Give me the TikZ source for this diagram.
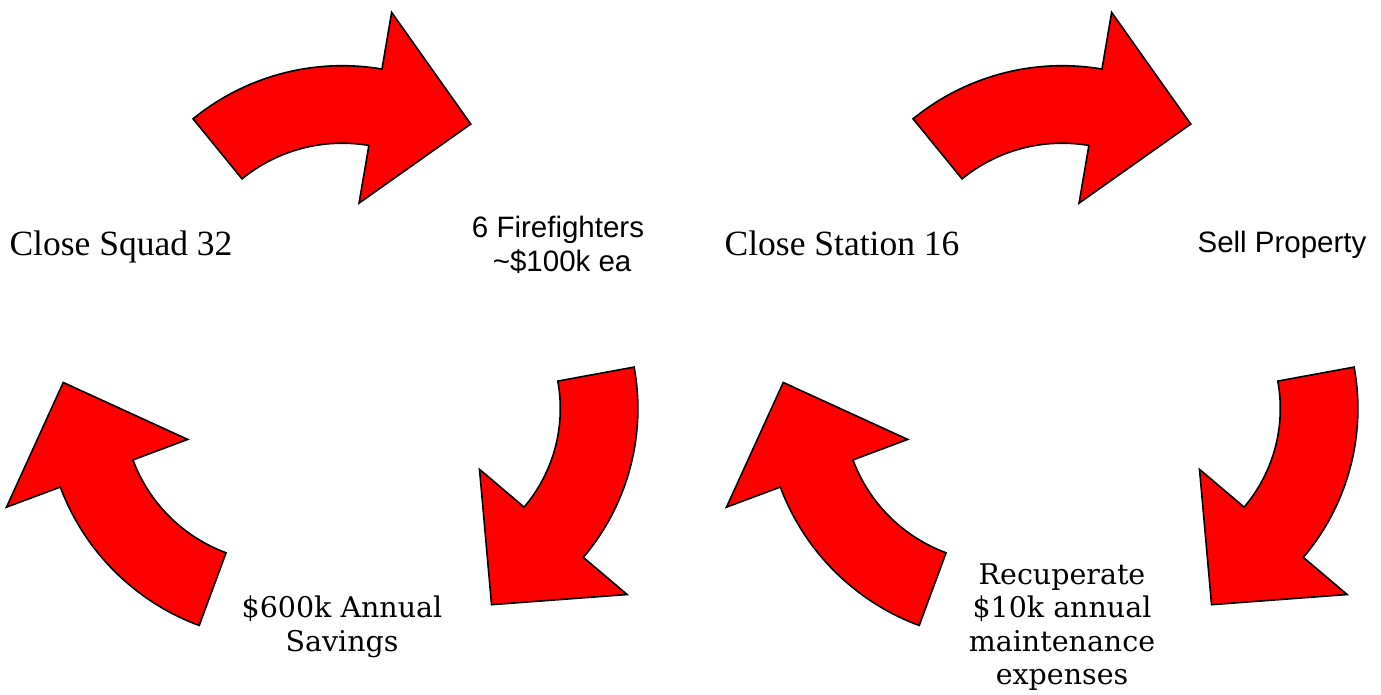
\documentclass[tikz,border=0pt]{standalone}
\usepackage{fontspec}
\setmainfont{Liberation Serif}
\newfontfamily\bookfont{DejaVu Serif}
\newfontfamily\arialfont{Liberation Sans}
\usetikzlibrary{calc}
% #1 centre, #2 tail angle, #3 head-base angle, #4 tip angle, #5 outer radius, #6 inner radius
\newcommand\firearrow[6]{%
  \draw[blockarrow] ($(#1)+(#2:#5)$) arc[start angle=#2, end angle=#3, radius=#5]
    -- ($(#1)+(#3:{#5+57.5})$) -- ($(#1)+(#4:{(#5+#6)/2+22})$)
    -- ($(#1)+(#3:{#6-58.5})$) -- ($(#1)+(#3:#6)$)
    arc[start angle=#3, end angle=#2, radius=#6] -- cycle;}
\tikzset{
  blockarrow/.style={fill=red, draw=black, line width=1.6pt, line join=miter},
  centurytxt/.style={font=\fontsize{35.5}{40}\selectfont, inner sep=0pt},
  bookmantxt/.style={font=\bookfont\fontsize{28.5}{34}\selectfont, align=center, inner sep=0pt},
  arialtxt/.style={font=\arialfont\fontsize{29.5}{34}\selectfont, align=center, inner sep=0pt},
}
\begin{document}
\begin{tikzpicture}[x=1pt,y=1pt]
\useasboundingbox (0,0) rectangle (1381,695);
% centres of the circular arrows
\coordinate (cA) at (342.2,393.3);
\coordinate (cB) at (407.9,286.4);
\coordinate (cC) at (280.9,290.4);
\coordinate (cD) at (1062.2,393.3);
\coordinate (cE) at (1127.9,286.4);
\coordinate (cF) at (1000.9,290.4);
% group 1
\firearrow{cA}{129.2}{80.3}{54.1}{236}{158.5}
\firearrow{cB}{10.4}{-40.3}{-66.9}{230}{152.4}
\firearrow{cC}{-110.3}{-159.5}{-185.8}{235.5}{158}
% group 2
\firearrow{cD}{129.2}{80.3}{54.1}{236}{158.5}
\firearrow{cE}{10.4}{-40.3}{-66.9}{230}{152.4}
\firearrow{cF}{-110.3}{-159.5}{-185.8}{235.5}{158}
% labels (anchor=base is the baseline of the last line)
\node[centurytxt, anchor=base] (squad) at (121,439) {Close Squad 32};
\node[arialtxt, anchor=base] (ff) at (558,423) {6 Firefighters\\\hspace*{0.28em}\textasciitilde\$100k ea};
\node[bookmantxt, anchor=base] (savings) at (342,43) {\$600k Annual\\Savings};
\node[centurytxt, anchor=base] (station) at (842,439) {Close Station 16};
\node[arialtxt, anchor=base] (sell) at (1282,442) {Sell Property};
\node[bookmantxt, anchor=base, font=\bookfont\fontsize{28.5}{33.5}\selectfont] (recup) at (1062,10) {Recuperate\\\$10k annual\\maintenance\\expenses};
\end{tikzpicture}
\end{document}
